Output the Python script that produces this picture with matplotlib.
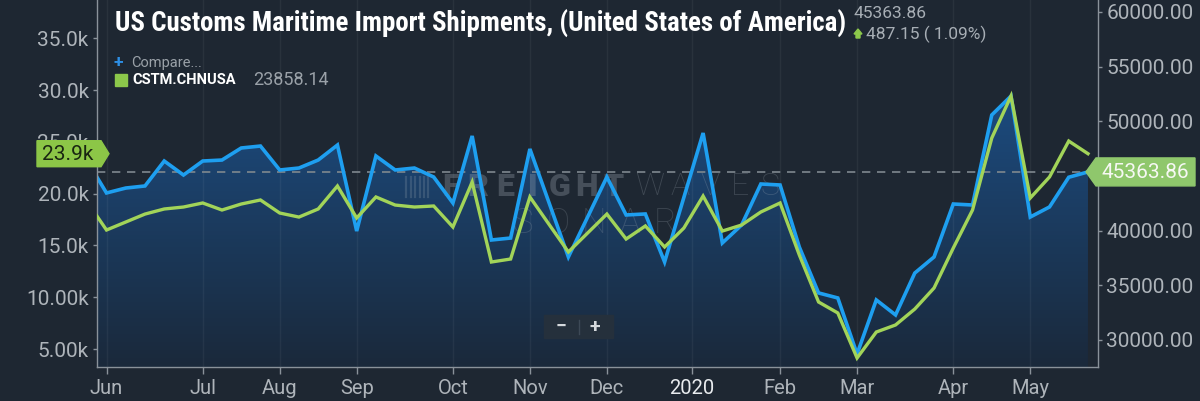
import numpy as np
import pandas as pd
import matplotlib
matplotlib.use("Agg")
import matplotlib.pyplot as plt
from matplotlib.patches import Polygon, Rectangle
from matplotlib.colors import LinearSegmentedColormap
from matplotlib.lines import Line2D

# ---------------- data ----------------
weeks = pd.date_range("2019-05-26", periods=53, freq="7D")
us_total = [46360, 43440, 43890, 44080, 46360, 45080, 46360, 46450, 47550, 47730,
            45540, 45720, 46450, 47820, 39960, 46820, 45540, 45720, 44900, 42520,
            48650, 39140, 39320, 47460, 42520, 37590, 41240, 44900, 41430, 41520,
            37130, 43030, 48920, 38870, 40510, 44260, 44170, 38500, 34300, 33840,
            28720, 33660, 32290, 36120, 37590, 42430, 42340, 50570, 52300, 41240,
            42160, 44876.71, 45363.86]
chn_usa = [19190, 16490, 17260, 18030, 18520, 18710, 19100, 18420, 19000, 19390,
           18130, 17740, 18520, 20740, 17650, 19680, 18900, 18710, 18810, 16780,
           21120, 13400, 13690, 19680, 17020, 14370, 16200, 18030, 15620, 16880,
           14850, 16680, 19770, 16390, 16970, 18230, 19100, 14080, 9540, 8480,
           4130, 6640, 7320, 8860, 10890, 14750, 18420, 25370, 29430, 19580,
           21610, 25080, 23858.14]
left_ticks = [5000, 10000, 15000, 20000, 25000, 30000, 35000]
left_labels = ["5.00k", "10.00k", "15.0k", "20.0k", "25.0k", "30.0k", "35.0k"]
right_ticks = [30000, 35000, 40000, 50000, 55000, 60000]
right_labels = [f"{v:.2f}" for v in right_ticks]
month_labels = ["Jun", "Jul", "Aug", "Sep", "Oct", "Nov", "Dec", "2020",
                "Feb", "Mar", "Apr", "May"]
title = "US Customs Maritime Import Shipments, (United States of America)"
series_name = "CSTM.CHNUSA"
left_flag_label = "23.9k"

# ---------------- style ----------------
W, H, DPI = 1200, 401, 100
BG = "#1e2732"
SPINE = "#8a929a"
TICKC = "#aeb4ba"
BLUE = "#1e9ff0"
GREEN = "#a2d459"
plt.rcParams["font.family"] = ["Roboto", "DejaVu Sans"]

fig = plt.figure(figsize=(W / DPI, H / DPI), dpi=DPI, facecolor=BG)
ax = fig.add_axes([97 / W, 1 - 367 / H, (1098 - 97) / W, 367 / H])
ax2 = ax.twinx()
ax.set_zorder(2)
ax2.set_zorder(1)
ax.patch.set_visible(False)
ax2.patch.set_visible(False)

x = np.arange(len(weeks)) - 1
XL = (-0.494, 51.52)
YL = (3262, 38700)
YR = (27530, 61080)

# month tick positions (first week of each month; year label at Jan 1)
pos = []
for i in range(1, len(weeks)):
    if weeks[i].month != weeks[i - 1].month:
        if weeks[i].month == 1:
            pos.append((pd.Timestamp(weeks[i].year, 1, 1) - weeks[0]).days / 7 - 1)
        else:
            pos.append(x[i])

# gradient fill under the main series
coll = ax2.fill_between(x, us_total, YR[0], facecolor="none", edgecolor="none")
clip = coll.get_paths()[0]
yy = np.linspace(0, 1, 256)[:, None]
g = np.clip(yy / 0.72, 0, 1)
cmap = LinearSegmentedColormap.from_list("f", ["#1a293b", "#1c4a7d"])
im = ax2.imshow(g, extent=[XL[0], XL[1], YR[0], YR[1]], origin="lower",
                aspect="auto", cmap=cmap, vmin=0, vmax=1, zorder=1,
                interpolation="bilinear")
im.set_clip_path(clip, transform=ax2.transData)

for p in pos:
    ax2.axvline(p, color="#ffffff", alpha=0.05, lw=1, zorder=1.5)
ax2.axhline(us_total[-1], color="#7f888f", lw=1.2, dashes=(5, 4), zorder=2.5)

ax2.plot(x, us_total, color=BLUE, lw=2.6, zorder=3, solid_joinstyle="miter")
ax.plot(x, chn_usa, color=GREEN, lw=2.4, zorder=3, solid_joinstyle="miter")

ax.set_xlim(*XL)
ax.set_ylim(*YL)
ax2.set_ylim(*YR)

for a in (ax, ax2):
    a.spines["top"].set_visible(False)
    for s in a.spines.values():
        s.set_color(SPINE)
        s.set_linewidth(1)
ax.spines["right"].set_visible(False)
ax2.spines["left"].set_visible(False)
ax2.spines["bottom"].set_visible(False)

ax.set_yticks(left_ticks)
ax.set_yticklabels(left_labels)
ax2.set_yticks(right_ticks)
ax2.set_yticklabels(right_labels)
ax.set_xticks(pos)
ax.set_xticklabels(month_labels)
ax.tick_params(axis="y", length=3, width=1, color=SPINE, labelcolor=TICKC,
               labelsize=15, pad=3)
ax2.tick_params(axis="y", length=3, width=1, color=SPINE, labelcolor=TICKC,
                labelsize=15, pad=3)
ax.tick_params(axis="x", length=5, width=1, color=SPINE, labelcolor=TICKC,
               labelsize=14.5, pad=4)
ax.get_xticklabels()[month_labels.index("2020")].set_color("#e8ebee")


def P(px, py):
    return px / W, 1 - py / H


# title and header
t = fig.text(*P(115, 32), title, color="white", fontsize=19, fontweight="bold",
             va="baseline", ha="left",
             family=["Roboto Condensed", "Liberation Sans Narrow", "Roboto"])
fig.canvas.draw()
bb = t.get_window_extent()
t.set_fontsize(19 * 730 / bb.width)

fig.text(*P(853, 14), f"{us_total[-1]:.2f}", color="#a7aeb5", fontsize=12.5,
         va="center", ha="left")
chg = us_total[-1] - us_total[-2]
fig.text(*P(866, 34), f"{chg:.2f} ( {chg / us_total[-2] * 100:.2f}%)",
         color="#a7aeb5", fontsize=12.5, va="center", ha="left")
arrow = [(858, 29), (862, 34), (860, 34), (860, 38), (856, 38), (856, 34), (854, 34)]
fig.add_artist(Polygon([P(*q) for q in arrow], closed=True, color="#8cc84b",
                       transform=fig.transFigure, zorder=10))

# legend
fig.text(*P(118, 62), "+", color="#2d8fe6", fontsize=12.5, fontweight="bold",
         va="center", ha="center")
fig.text(*P(131, 63), "Compare...", color="#9aa1a8", fontsize=10.5, va="center")
fig.add_artist(Rectangle(P(115, 86), 12 / W, 12 / H, color="#8cc84b",
                         transform=fig.transFigure, zorder=10))
fig.text(*P(132, 80), series_name, color="white", fontsize=10.5,
         fontweight="bold", va="center")
fig.text(*P(253, 80), f"{chn_usa[-1]:.2f}", color="#9aa1a8", fontsize=13,
         va="center")

# value flags
yl = H - ax.transData.transform((0, chn_usa[-1]))[1]
yr = H - ax2.transData.transform((0, us_total[-1]))[1]
lf = [(37, yl - 13), (101, yl - 13), (109, yl), (101, yl + 13), (37, yl + 13)]
fig.add_artist(Polygon([P(*q) for q in lf], closed=True, color="#8cc647",
                       transform=fig.transFigure, zorder=10))
fig.text(*P(68, yl + 1), left_flag_label, color="#1a2612", fontsize=15,
         va="center", ha="center", zorder=11)
rf = [(1086, yr), (1096, yr - 14), (1195, yr - 14), (1195, yr + 14), (1096, yr + 14)]
fig.add_artist(Polygon([P(*q) for q in rf], closed=True, color="#8fc76c",
                       transform=fig.transFigure, zorder=10))
fig.text(*P(1102, yr + 1), f"{us_total[-1]:.2f}", color="#f6f8f3", fontsize=15,
         va="center", ha="left", zorder=11)

# watermark
wmc = dict(color="#a3adb7", transform=fig.transFigure, zorder=1.8,
           va="center", ha="center")
for k in range(6):
    ax2.add_line(Line2D([(406 + 4.5 * k) / W] * 2, [1 - 197 / H, 1 - 177 / H],
                        color="#a3adb7", alpha=0.22, lw=1.6,
                        transform=fig.transFigure, zorder=1.8))
for cx, ch in zip(np.linspace(451, 614, 7), "FREIGHT"):
    ax2.text(*P(cx, 187), ch, fontsize=23, fontweight="heavy", alpha=0.3, **wmc)
for cx, ch in zip(np.linspace(650, 770, 5), "WAVES"):
    ax2.text(*P(cx, 187), ch, fontsize=23, fontweight="light", alpha=0.25, **wmc)
for cx, ch in zip(np.linspace(523, 665, 5), "SONAR"):
    ax2.text(*P(cx, 223), ch, fontsize=25, fontweight="light", alpha=0.22, **wmc)

# zoom buttons
fig.add_artist(Rectangle(P(544, 338), 69 / W, 23 / H, color="#25303c",
                         transform=fig.transFigure, zorder=10))
fig.add_artist(Line2D([579 / W, 579 / W], [1 - 334 / H, 1 - 320 / H],
                      color="#3d4956", lw=1, transform=fig.transFigure, zorder=11))
fig.text(*P(561, 327), "−", color="#d5d9dd", fontsize=14, fontweight="bold",
         va="center", ha="center", zorder=11, family=["Roboto", "DejaVu Sans"])
fig.text(*P(595, 327), "+", color="#d5d9dd", fontsize=14, fontweight="bold",
         va="center", ha="center", zorder=11)

fig.savefig("out.png", dpi=DPI, facecolor=BG)
